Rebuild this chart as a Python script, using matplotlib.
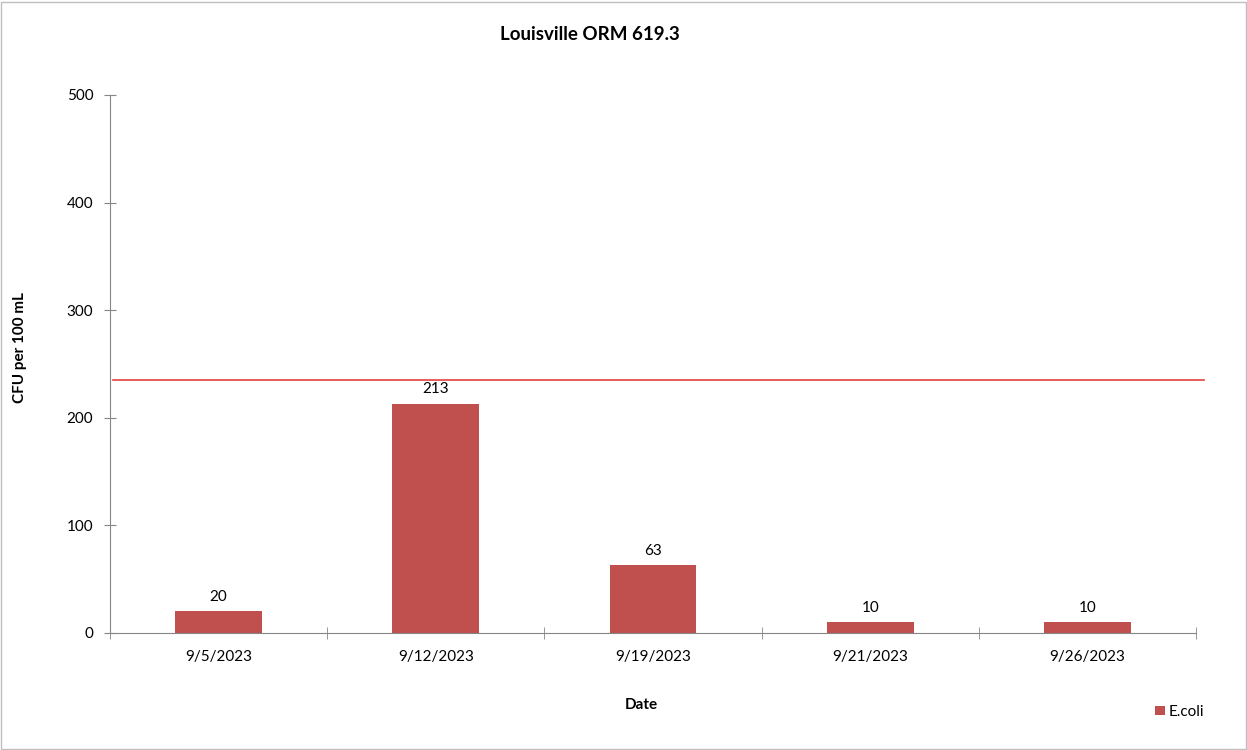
import matplotlib
matplotlib.use("Agg")
from matplotlib import pyplot as plt
from matplotlib.patches import Rectangle

# data
dates = ["9/5/2023", "9/12/2023", "9/19/2023", "9/21/2023", "9/26/2023"]
ecoli = [20, 213, 63, 10, 10]
limit = 235   # single-sample criterion line

plt.rcParams['font.family'] = ['Lato', 'DejaVu Sans']

fig = plt.figure(figsize=(12.47, 7.5), dpi=100)
ax = fig.add_axes([110 / 1247, 117 / 750, 1086 / 1247, 538 / 750])

x = list(range(len(dates)))
bars = ax.bar(x, ecoli, width=0.4, color="#C0504D", label="E.coli", zorder=2)
for xi, v in zip(x, ecoli):
    ax.text(xi, v + 7, str(v), ha="center", va="bottom", fontsize=11)

ax.axhline(limit, xmin=0.003, xmax=1.007, color="#E2413F", lw=1.2, zorder=3, clip_on=False)

ax.set_xlim(-0.5, len(dates) - 0.5)
ax.set_ylim(0, 500)
ax.set_yticks([0, 100, 200, 300, 400, 500])
ax.set_xticks(x)
ax.set_xticklabels(dates)
ax.set_xticks([i - 0.5 for i in range(len(dates) + 1)], minor=True)
ax.tick_params(axis="x", which="major", length=0, pad=12, labelsize=11)
ax.tick_params(axis="x", which="minor", direction="inout", length=8, color="#868686")
ax.tick_params(axis="y", direction="inout", length=8, color="#868686", pad=8, labelsize=11)

for side in ["top", "right"]:
    ax.spines[side].set_visible(False)
for side in ["left", "bottom"]:
    ax.spines[side].set_color("#868686")

fig.text(590 / 1247, 1 - 35 / 750, "Louisville ORM 619.3", ha="center", va="center",
         fontsize=13.5, fontweight="bold")
fig.text(20 / 1247, 1 - 348 / 750, "CFU per 100 mL", rotation=90, ha="center", va="center",
         fontsize=11, fontweight="bold")
fig.text(641 / 1247, 1 - 705 / 750, "Date", ha="center", va="center",
         fontsize=11, fontweight="bold")

fig.legend(handles=[bars], labels=["E.coli"], loc="center", bbox_to_anchor=(1180 / 1247, 1 - 712 / 750),
           frameon=False, fontsize=11, handlelength=0.6, handleheight=0.6, handletextpad=0.3)

fig.patches.append(Rectangle((0.001, 0.002), 0.998, 0.996, transform=fig.transFigure,
                             fill=False, edgecolor="#BFBFBF", lw=1))

fig.savefig("out.png", dpi=100)
